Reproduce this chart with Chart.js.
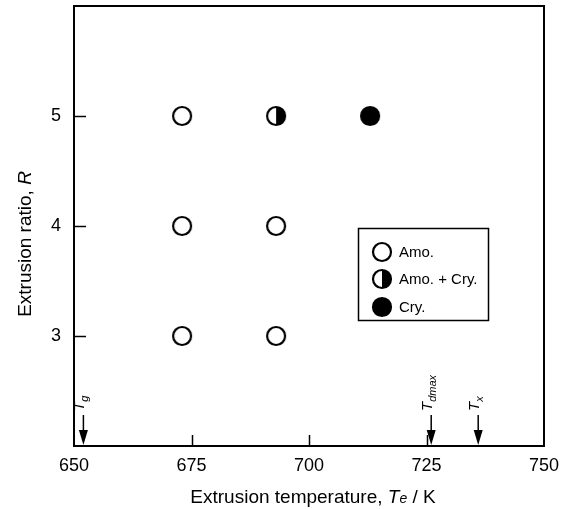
<!DOCTYPE html>
<html><head><meta charset="utf-8">
<script src="https://cdn.jsdelivr.net/npm/chart.js@4"></script>
<style>html,body{margin:0;padding:0;background:#fff}#c{display:block}</style>
</head><body>
<canvas id="c" width="570" height="509"></canvas>
<script>
// ---- data ----
const amoTemps = [673, 673, 673, 693, 693];
const amoRatios = [3, 4, 5, 3, 4];
const mixTemps = [693];
const mixRatios = [5];
const cryTemps = [713];
const cryRatios = [5];
const xTickValues = [650, 675, 700, 725, 750];
const yAxisValues = [2, 3, 4, 5, 6];
const yTickValues = [3, 4, 5];
const seriesLabels = ['Amo.', 'Amo. + Cry.', 'Cry.'];
const markSymbols = ['T', 'T', 'T'];
const markSubs = ['g', 'dmax', 'x'];
const markTemps = [652, 726, 736];

const FONT = "'Liberation Sans', Arial, Helvetica, sans-serif";

function makeMarker(kind) {
  const s = 24, c = document.createElement('canvas');
  c.width = s; c.height = s;
  const g = c.getContext('2d');
  const cx = s / 2, cy = s / 2, r = 9;
  g.beginPath(); g.arc(cx, cy, r, 0, Math.PI * 2);
  g.fillStyle = kind === 'cry' ? '#000' : '#fff'; g.fill();
  if (kind === 'mix') {
    g.beginPath(); g.moveTo(cx, cy - r); g.arc(cx, cy, r, -Math.PI / 2, Math.PI / 2); g.closePath();
    g.fillStyle = '#000'; g.fill();
  }
  g.beginPath(); g.arc(cx, cy, r, 0, Math.PI * 2);
  g.lineWidth = 2.2; g.strokeStyle = '#000'; g.stroke();
  return c;
}
const markers = [makeMarker('amo'), makeMarker('mix'), makeMarker('cry')];

function toPts(xs, ys) { return xs.map((x, i) => ({ x: x, y: ys[i] })); }

function drawRuns(ctx, runs, x, y, align) {
  let total = 0;
  runs.forEach(r => { ctx.font = r.font; r.w = ctx.measureText(r.text).width; total += r.w; });
  let cx = align === 'center' ? x - total / 2 : x;
  ctx.textAlign = 'left'; ctx.textBaseline = 'alphabetic';
  runs.forEach(r => { ctx.font = r.font; ctx.fillText(r.text, cx, y + (r.dy || 0)); cx += r.w; });
}

const decor = {
  id: 'decor',
  afterDraw(chart) {
    const ctx = chart.ctx, a = chart.chartArea;
    const xs = chart.scales.x, ys = chart.scales.y;
    ctx.save();
    ctx.strokeStyle = '#000'; ctx.fillStyle = '#000';
    // frame
    ctx.lineWidth = 2;
    ctx.strokeRect(a.left, a.top, a.right - a.left, a.bottom - a.top);
    // inner ticks
    ctx.lineWidth = 1.5;
    yTickValues.forEach(v => {
      const py = Math.round(ys.getPixelForValue(v)) + 0.5;
      ctx.beginPath(); ctx.moveTo(a.left, py); ctx.lineTo(a.left + 12, py); ctx.stroke();
    });
    xTickValues.slice(1, -1).forEach(v => {
      const px = Math.round(xs.getPixelForValue(v)) + 0.5;
      ctx.beginPath(); ctx.moveTo(px, a.bottom); ctx.lineTo(px, a.bottom - 11); ctx.stroke();
    });
    // transition arrows
    markTemps.forEach((t, i) => {
      const px = xs.getPixelForValue(t);
      ctx.lineWidth = 1.5;
      ctx.beginPath(); ctx.moveTo(px, a.bottom - 31); ctx.lineTo(px, a.bottom - 12); ctx.stroke();
      ctx.beginPath(); ctx.moveTo(px - 4.5, a.bottom - 16); ctx.lineTo(px + 4.5, a.bottom - 16); ctx.lineTo(px, a.bottom - 1); ctx.closePath(); ctx.fill();
      ctx.save();
      ctx.translate(px + 1, a.bottom - 35);
      ctx.rotate(-Math.PI / 2);
      drawRuns(ctx, [
        { text: markSymbols[i], font: 'italic 15px ' + FONT },
        { text: markSubs[i], font: 'italic 11px ' + FONT, dy: 4 }
      ], 0, 0, 'left');
      ctx.restore();
    });
    // legend
    const lx = 358, ly = 228, lw = 130, lh = 92;
    ctx.lineWidth = 1.5;
    ctx.strokeRect(lx + 0.5, ly + 0.5, lw, lh);
    const rowsY = [252, 279, 307];
    seriesLabels.forEach((lab, i) => {
      ctx.drawImage(markers[i], 382 - 12, rowsY[i] - 12);
      ctx.font = '15px ' + FONT; ctx.textAlign = 'left'; ctx.textBaseline = 'middle';
      ctx.fillText(lab, 399, rowsY[i] + 1);
    });
    // x title
    const cxT = (a.left + a.right) / 2 + 4;
    drawRuns(ctx, [
      { text: 'Extrusion temperature, ', font: '19px ' + FONT },
      { text: 'T', font: 'italic 19px ' + FONT },
      { text: 'e', font: 'italic 14px ' + FONT },
      { text: ' / K', font: '19px ' + FONT }
    ], cxT, 503, 'center');
    // y title
    ctx.save();
    ctx.translate(31, 244);
    ctx.rotate(-Math.PI / 2);
    drawRuns(ctx, [
      { text: 'Extrusion ratio, ', font: '19px ' + FONT },
      { text: 'R', font: 'italic 19px ' + FONT }
    ], 0, 0, 'center');
    ctx.restore();
    ctx.restore();
  }
};

new Chart(document.getElementById('c'), {
  type: 'scatter',
  data: {
    datasets: [
      { label: seriesLabels[0], data: toPts(amoTemps, amoRatios), pointStyle: markers[0] },
      { label: seriesLabels[1], data: toPts(mixTemps, mixRatios), pointStyle: markers[1] },
      { label: seriesLabels[2], data: toPts(cryTemps, cryRatios), pointStyle: markers[2] }
    ]
  },
  options: {
    responsive: false,
    animation: false,
    events: [],
    layout: { autoPadding: false, padding: { left: 0, top: 6, right: 26, bottom: 0 } },
    plugins: { legend: { display: false }, tooltip: { enabled: false } },
    scales: {
      x: {
        type: 'linear', min: 650, max: 750,
        grid: { display: false, drawTicks: false },
        border: { display: false },
        afterBuildTicks: s => { s.ticks = xTickValues.map(v => ({ value: v })); },
        afterFit: s => { s.height = 63; },
        ticks: { color: '#000', padding: 9, maxRotation: 0, font: { family: FONT, size: 18 } }
      },
      y: {
        type: 'linear', min: 2, max: 6,
        grid: { display: false, drawTicks: false },
        border: { display: false },
        afterBuildTicks: s => { s.ticks = yAxisValues.map(v => ({ value: v })); },
        afterFit: s => { s.width = 74; s.paddingTop = 0; s.paddingBottom = 0; },
        ticks: {
          color: '#000', padding: 13, font: { family: FONT, size: 18 },
          callback: v => (yTickValues.includes(v) ? String(v) : '')
        }
      }
    }
  },
  plugins: [decor]
});
</script>
</body></html>
